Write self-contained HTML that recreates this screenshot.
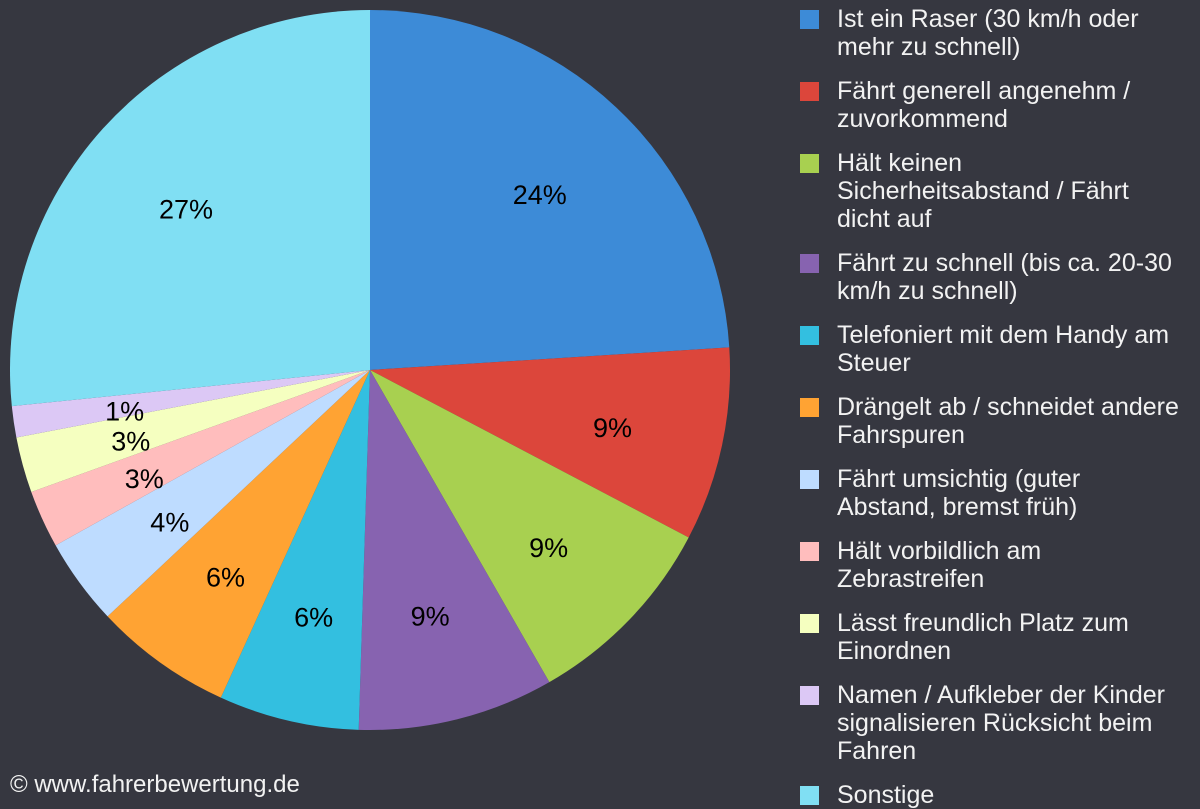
<!DOCTYPE html>
<html><head><meta charset="utf-8">
<style>
html,body{margin:0;padding:0;background:#363740;}
body{width:1200px;height:800px;overflow:hidden;position:relative;font-family:"Liberation Sans",sans-serif;}
svg{position:absolute;left:0;top:0;}
.leg{position:absolute;left:800px;color:#f2f2f2;font-size:25px;line-height:28px;}
.sw{position:absolute;left:0;top:5px;width:19px;height:19px;}
.lt{position:absolute;left:37px;white-space:nowrap;}
#copy{position:absolute;left:10px;top:771px;color:#f2f2f2;font-size:24px;line-height:28px;}
</style></head>
<body>
<svg id="pie" width="1200" height="800"></svg>
<div id="legend"></div>
<div id="copy">© www.fahrerbewertung.de</div>
<script>
const categories = [
 ["Ist ein Raser (30 km/h oder","mehr zu schnell)"],
 ["Fährt generell angenehm /","zuvorkommend"],
 ["Hält keinen","Sicherheitsabstand / Fährt","dicht auf"],
 ["Fährt zu schnell (bis ca. 20-30","km/h zu schnell)"],
 ["Telefoniert mit dem Handy am","Steuer"],
 ["Drängelt ab / schneidet andere","Fahrspuren"],
 ["Fährt umsichtig (guter","Abstand, bremst früh)"],
 ["Hält vorbildlich am","Zebrastreifen"],
 ["Lässt freundlich Platz zum","Einordnen"],
 ["Namen / Aufkleber der Kinder","signalisieren Rücksicht beim","Fahren"],
 ["Sonstige"]
];
const values = [24.0, 8.7, 9.0, 8.8, 6.3, 6.2, 3.9, 2.6, 2.5, 1.4, 26.6];
const labels = ["24%","9%","9%","9%","6%","6%","4%","3%","3%","1%","27%"];
const colors = ["#3d8bd7","#dc463b","#a8d050","#8763b0","#33bfe0","#ffa333","#bedcff","#ffbdbd","#f5ffc0","#dcc8f5","#80dff3"];

const NS="http://www.w3.org/2000/svg";
const svg=document.getElementById('pie');
const cx=370, cy=370, r=360, lr=248;
const total=values.reduce((a,b)=>a+b,0);
let acc=0;
function pt(frac,rad){const a=frac*2*Math.PI;return [cx+rad*Math.sin(a),cy-rad*Math.cos(a)];}
values.forEach((v,i)=>{
  const f0=acc/total, f1=(acc+v)/total; acc+=v;
  const [x0,y0]=pt(f0,r),[x1,y1]=pt(f1,r);
  const large=(f1-f0)>0.5?1:0;
  const p=document.createElementNS(NS,'path');
  p.setAttribute('d',`M${cx},${cy}L${x0},${y0}A${r},${r} 0 ${large} 1 ${x1},${y1}Z`);
  p.setAttribute('fill',colors[i]);
  
  
  svg.appendChild(p);
  const [lx,ly]=pt((f0+f1)/2,lr);
  const t=document.createElementNS(NS,'text');
  t.setAttribute('x',lx);t.setAttribute('y',ly+15);
  t.setAttribute('text-anchor','middle');
  t.setAttribute('font-size','27');
  t.setAttribute('font-family','Liberation Sans, sans-serif');
  t.setAttribute('fill','#000');
  t.textContent=labels[i];
  
  
  svg.appendChild(t);
});
const leg=document.getElementById('legend');
let yPos=5;
categories.forEach((lines,i)=>{
  const d=document.createElement('div');
  d.className='leg';
  d.style.top=yPos+'px';
  
  
  const s=document.createElement('div');
  s.className='sw';s.style.background=colors[i];
  
  
  const t=document.createElement('div');
  t.className='lt';t.innerHTML=lines.join('<br>');
  
  
  d.appendChild(s);d.appendChild(t);leg.appendChild(d);
  yPos+=lines.length*28+16;
});
</script>
</body></html>
